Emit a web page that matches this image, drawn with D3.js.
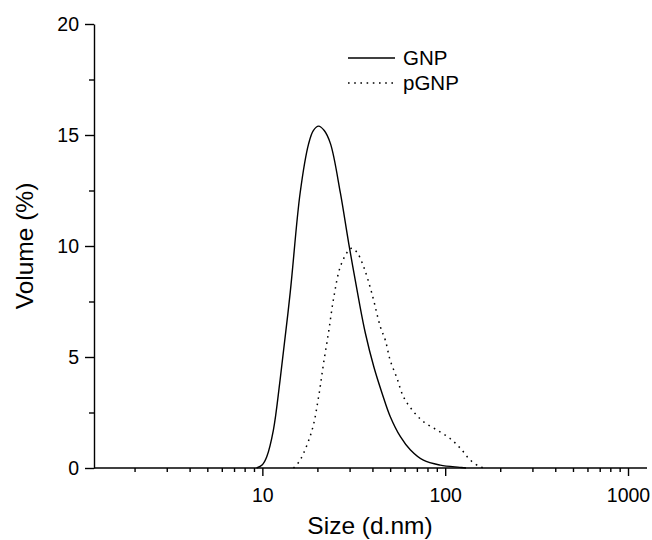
<!DOCTYPE html>
<html>
<head>
<meta charset="utf-8">
<script src="https://cdn.jsdelivr.net/npm/d3@7"></script>
<style>
  html, body { margin: 0; padding: 0; background: #fff; }
  svg { display: block; font-family: "Liberation Sans", Arial, sans-serif; }
</style>
</head>
<body>
<svg id="chart" width="652" height="540"></svg>
<script>
// ---- data ----
const gnpSize = [9.3, 10, 10.57, 11.49, 12.5, 14.2, 16.1, 17.9, 19.0, 20.3, 21.8, 23.6, 26.7, 29.7, 33.7, 36.6, 40.7, 45.2, 50.1, 56.9, 64.6, 76, 94, 120, 130];
const gnpVol  = [0, 0.15, 0.51, 1.71, 3.96, 7.9, 12.4, 14.6, 15.2, 15.4, 15.2, 14.6, 12.4, 10.1, 7.57, 6.07, 4.56, 3.36, 2.31, 1.41, 0.81, 0.35, 0.13, 0.03, 0];
const pgnpSize = [14.8, 16.1, 18.7, 20.3, 21.6, 23.1, 24.6, 26.7, 29.6, 30.9, 33, 35.8, 39.7, 44.2, 47, 50, 54.5, 59.2, 67.1, 76, 90.1, 106, 121, 137, 155, 166];
const pgnpVol  = [0, 0.36, 1.71, 3.2, 4.7, 6.2, 7.7, 9.07, 9.8, 9.9, 9.7, 9.07, 7.87, 6.36, 5.77, 4.86, 4.04, 3.2, 2.54, 2.09, 1.71, 1.34, 0.89, 0.36, 0.06, 0];
const xMajorTicks = [10, 100, 1000];
const xMajorLabels = ["10", "100", "1000"];
const xMinorTicks = [2,3,4,5,6,7,8,9,20,30,40,50,60,70,80,90,200,300,400,500,600,700,800,900];
const yMajorTicks = [0, 5, 10, 15, 20];
const yMinorTicks = [2.5, 7.5, 12.5, 17.5];
const seriesNames = ["GNP", "pGNP"];
const xTitle = "Size (d.nm)";
const yTitle = "Volume (%)";

// ---- layout ----
const svg = d3.select("#chart");
const x = d3.scaleLog().domain([1.2, 1270]).range([94, 647]);
const y = d3.scaleLinear().domain([0, 20]).range([468, 24]);

const axisW = 1.4;

// X axis
const gx = svg.append("g").attr("transform", `translate(0,${y(0)})`);
gx.call(d3.axisBottom(x).tickValues(xMajorTicks).tickFormat((d,i) => xMajorLabels[i]).tickSize(8).tickPadding(12).tickSizeOuter(0));
gx.append("g").call(d3.axisBottom(x).tickValues(xMinorTicks).tickFormat("").tickSize(4).tickSizeOuter(0))
  .select(".domain").remove();
gx.selectAll(".domain").attr("stroke-width", axisW).attr("d", `M${x.range()[0]},0H${x.range()[1]}`);
gx.selectAll(".tick line").attr("stroke-width", axisW);
gx.selectAll("text").attr("font-size", 19.5).attr("font-family", "Liberation Sans, Arial, sans-serif").attr("fill", "#000");

// Y axis
const gy = svg.append("g").attr("transform", `translate(${x.range()[0]},0)`);
gy.call(d3.axisLeft(y).tickValues(yMajorTicks).tickFormat(d3.format("d")).tickSize(9).tickPadding(6).tickSizeOuter(0));
gy.append("g").call(d3.axisLeft(y).tickValues(yMinorTicks).tickFormat("").tickSize(5).tickSizeOuter(0))
  .select(".domain").remove();
gy.selectAll(".domain").attr("stroke-width", axisW);
gy.selectAll(".tick line").attr("stroke-width", axisW);
gy.selectAll("text").attr("font-size", 19.5).attr("font-family", "Liberation Sans, Arial, sans-serif").attr("fill", "#000");

// Titles
svg.append("text").attr("x", 370).attr("y", 534).attr("text-anchor", "middle")
  .attr("font-size", 24.5).text(xTitle);
svg.append("text").attr("transform", `translate(33,${(y(0)+y(20))/2}) rotate(-90)`)
  .attr("text-anchor", "middle").attr("font-size", 24.5).text(yTitle);

// Lines
const line = d3.line().x(d => x(d[0])).y(d => Math.min(y(0), y(d[1]))).curve(d3.curveCatmullRom.alpha(0.5));
const gnp = gnpSize.map((s,i) => [s, gnpVol[i]]);
const pgnp = pgnpSize.map((s,i) => [s, pgnpVol[i]]);

svg.append("path").datum(gnp).attr("d", line).attr("fill", "none")
  .attr("stroke", "#000").attr("stroke-width", 1.4);
svg.append("path").datum(pgnp).attr("d", line).attr("fill", "none")
  .attr("stroke", "#000").attr("stroke-width", 1.5).attr("stroke-dasharray", "1.6,4.6");

// Legend
const leg = svg.append("g");
const legY = [58, 83];
const dashes = [null, "1.6,4.6"];
seriesNames.forEach((n, i) => {
  leg.append("line").attr("x1", 348).attr("x2", 395).attr("y1", legY[i]).attr("y2", legY[i])
    .attr("stroke", "#000").attr("stroke-width", 1.4).attr("stroke-dasharray", dashes[i]);
  leg.append("text").attr("x", 403).attr("y", legY[i] + 7).attr("font-size", 20.5).text(n);
});
</script>
</body>
</html>
